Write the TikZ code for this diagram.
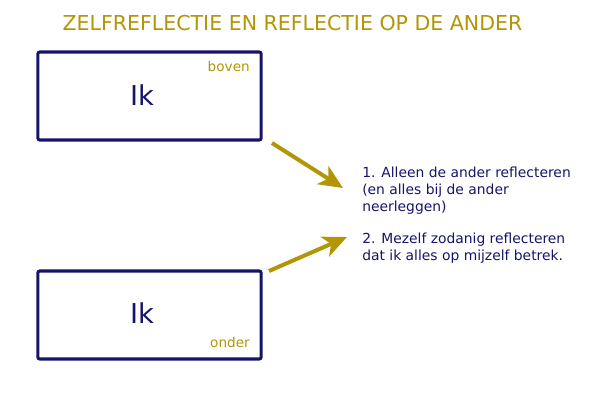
\documentclass[tikz,border=0pt]{standalone}
\usepackage{fontspec}
\setmainfont{DejaVu Sans}
\usetikzlibrary{arrows.meta}
\definecolor{navy}{RGB}{22,20,104}
\definecolor{gold}{RGB}{178,150,6}
\tikzset{
  ikbox/.style={draw=navy, line width=2.3pt, rounded corners=1.5pt, minimum width=167.5pt, minimum height=66pt, inner sep=0pt},
  iklabel/.style={text=navy, font=\fontsize{20.5}{24}\selectfont, inner sep=0pt},
  tag/.style={text=gold, font=\fontsize{10.2}{12}\selectfont, inner sep=0pt},
  goldarrow/.style={draw=gold, line width=3pt, -{Stealth[length=18pt, width=16pt, inset=5pt]}},
  itemtext/.style={text=navy, font=\fontsize{10.4}{12.4}\selectfont, align=left, inner sep=0pt, anchor=base west},
  titletext/.style={text=gold, font=\fontsize{15.4}{18}\selectfont, inner sep=0pt, anchor=base}
}
\begin{document}
\begin{tikzpicture}[x=0.75pt,y=-0.75pt]
\useasboundingbox (0,0) rectangle (600,400);
\node[titletext] (title) at (292.5,30) {ZELFREFLECTIE EN REFLECTIE OP DE ANDER};
\node[ikbox] (boven) at (149.5,96) {};
\node[ikbox] (onder) at (149.5,315) {};
\node[iklabel] (ik1) at (142,95) {Ik};
\node[iklabel] (ik2) at (142,313) {Ik};
\node[tag, anchor=base east] (bovenlbl) at (250,71) {boven};
\node[tag, anchor=base east] (onderlbl) at (250,347) {onder};
\node[itemtext] (item1) at (362,211) {1. Alleen de ander reflecteren\\(en alles bij de ander\\neerleggen)};
\node[itemtext] (item2) at (362,260) {2. Mezelf zodanig reflecteren\\dat ik alles op mijzelf betrek.};
\coordinate (a1s) at (272,143);
\coordinate (a1e) at (343,188);
\coordinate (a2s) at (269,271);
\coordinate (a2e) at (347,237);
\draw[goldarrow] (a1s) -- (a1e);
\draw[goldarrow] (a2s) -- (a2e);
\end{tikzpicture}
\end{document}
